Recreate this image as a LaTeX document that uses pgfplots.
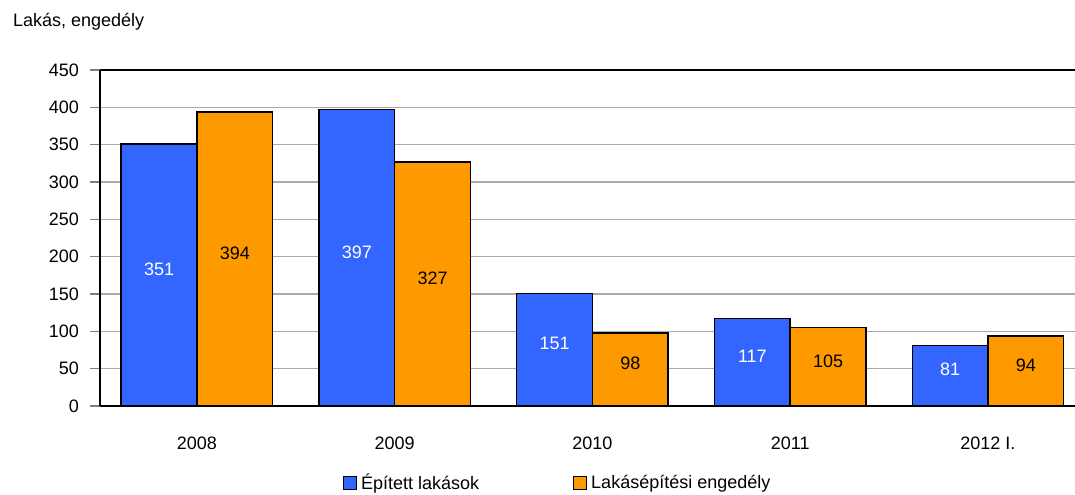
\documentclass[border=0pt]{standalone}
\usepackage{fontspec}
\setmainfont{Liberation Sans}
\usepackage{pgfplots}
\usepackage{pgfplotstable}
\pgfplotsset{compat=1.18}

\definecolor{barblue}{RGB}{51,102,255}
\definecolor{barorange}{RGB}{255,153,0}
\definecolor{gridgray}{RGB}{170,170,170}

\pgfplotsset{
    sqlegend/.style={legend image code/.code={\draw[##1, line width=0.5pt] (0pt,-3.5pt) rectangle (6.5pt,3pt);}},
    /pgf/number format/assume math mode=true,
}

\pgfplotstableread{
x b o
0 351 394
1 397 327
2 151 98
3 117 105
4 81 94
}\data

\begin{document}
\begin{tikzpicture}
\path[use as bounding box] (0,0) rectangle (537.5pt,247pt);
\begin{axis}[
    at={(50pt,44pt)}, anchor=south west,
    width=487.5pt, height=168pt, scale only axis,
    xmin=-0.49, xmax=4.44, ymin=0, ymax=450,
    ytick={0,50,...,450},
    xtick={0,...,4},
    xticklabels={2008,2009,2010,2011,2012 I.},
    axis x line*=box, axis y line*=left,
    x axis line style={-}, y axis line style={-},
    axis line style={line width=0.8pt},
    xtick style={draw=none},
    ytick style={line width=0.6pt},
    tick align=outside,
    major tick length=5pt,
    ymajorgrids,
    grid style={gridgray, line width=0.8pt},
    ticklabel style={font=\fontsize{9}{10}\selectfont},
    xticklabel style={yshift=-7pt},
    yticklabel style={xshift=-2pt},
    legend columns=2,
    legend style={at={(0.249,-0.229)}, anchor=west, draw=none, fill=none,
        font=\fontsize{9}{10}\selectfont, inner sep=0pt,
        /tikz/every even column/.append style={column sep=45pt}},
]
\addplot[ybar, bar width=0.383, bar shift=-0.1915, fill=barblue, draw=black, line width=0.75pt, sqlegend]
    table[x=x, y=b]{\data};
\addlegendentry{Épített lakások}
\addplot[ybar, bar width=0.383, bar shift=0.1915, fill=barorange, draw=black, line width=0.75pt, sqlegend]
    table[x=x, y=o]{\data};
\addlegendentry{Lakásépítési engedély}

\addplot[forget plot, draw=none, nodes near coords, nodes near coords align=center,
    point meta=explicit,
    every node near coord/.append style={font=\fontsize{9}{10}\selectfont, text=white, anchor=center}]
    table[x expr=\thisrow{x}-0.1915, y expr=\thisrow{b}/2+8, meta=b]{\data};
\addplot[forget plot, draw=none, nodes near coords, nodes near coords align=center,
    point meta=explicit,
    every node near coord/.append style={font=\fontsize{9}{10}\selectfont, text=black, anchor=center}]
    table[x expr=\thisrow{x}+0.1915, y expr=\thisrow{o}/2+8, meta=o]{\data};
\end{axis}
\node[anchor=west, font=\fontsize{9}{10}\selectfont] at (3pt,236pt) {Lakás, engedély};
\end{tikzpicture}
\end{document}
